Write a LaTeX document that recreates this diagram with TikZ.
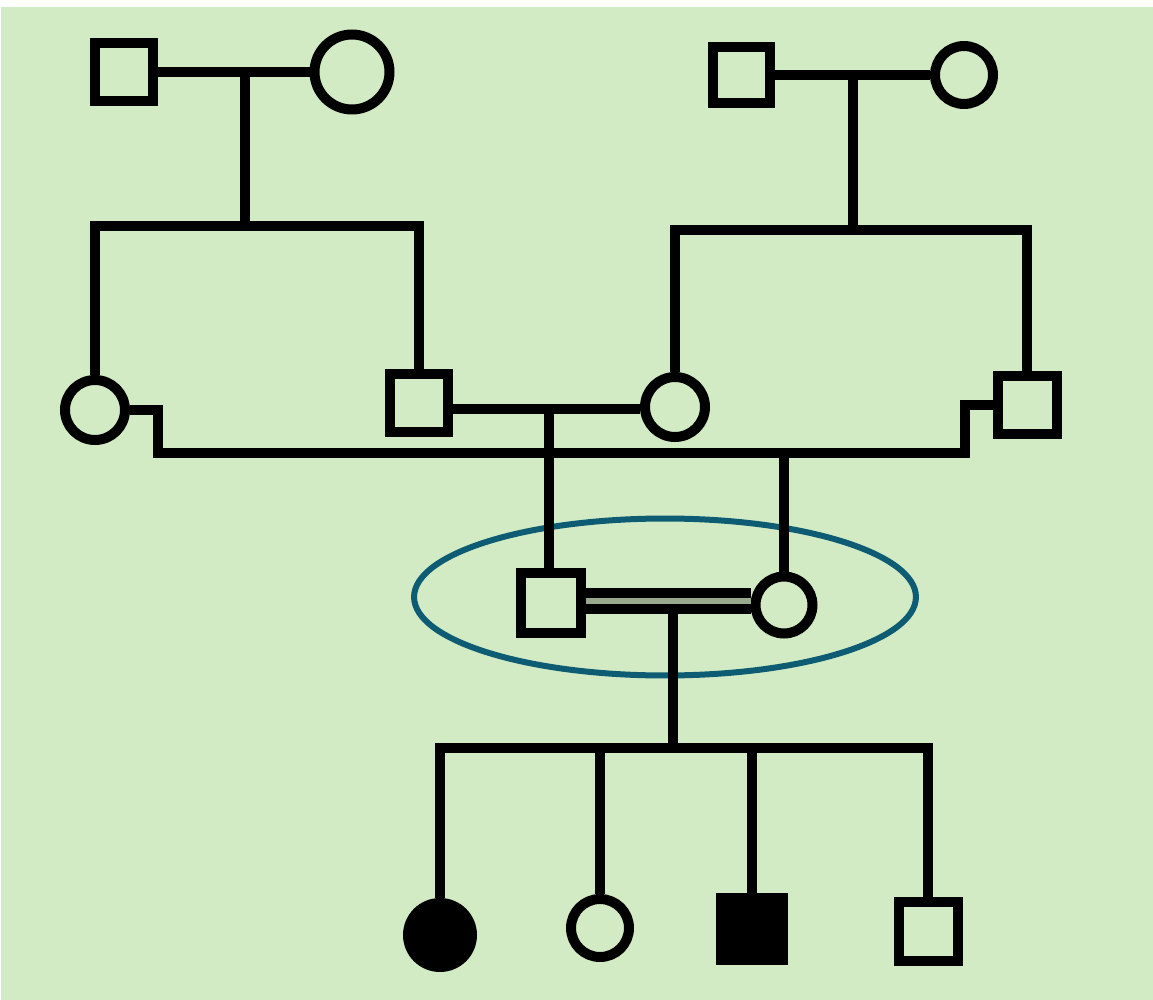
\documentclass[tikz,border=0pt]{standalone}
\usetikzlibrary{calc}
\definecolor{paleleaf}{RGB}{211,235,196}
\definecolor{ringblue}{RGB}{14,92,116}

\begin{document}
\begin{tikzpicture}[
  x=0.02cm,
  y=-0.02cm,
  line width=0.2cm,
  line join=miter,
  person/.style={draw, line width=0.2cm, inner sep=0pt, minimum size=1.18cm},
  male/.style={person, rectangle},
  female/.style={person, circle},
  affected/.style={fill=black},
  kinline/.style={line width=0.2cm, double=black!28!paleleaf, double distance=0.12cm},
  ring/.style={draw=ringblue, line width=0.12cm},
]
  \fill[white] (0,0) rectangle (1153,1000);
  \fill[paleleaf] (1,7) rectangle (1153,1000);

  % consanguineous couple marked
  \draw[ring] (665,597) ellipse [x radius=5.02cm, y radius=1.57cm];

  % generation I
  \node[male, minimum size=1.16cm] (ga) at (124,72) {};
  \node[female, minimum size=1.5cm] (gb) at (352,72) {};
  \node[male, minimum size=1.14cm] (gc) at (741,75) {};
  \node[female, minimum size=1.16cm] (gd) at (964,75) {};

  % generation II
  \node[female, minimum size=1.2cm] (pa) at (95,410) {};
  \node[male, minimum size=1.16cm] (pb) at (419,403) {};
  \node[female, minimum size=1.2cm] (pc) at (675,407) {};
  \node[male] (pd) at (1027,405) {};

  % generation III
  \node[male, minimum size=1.2cm] (gm) at (551,603) {};
  \node[female, minimum size=1.14cm] (gf) at (784,605) {};

  % generation IV
  \node[female, affected, minimum size=1.28cm] (ca) at (440,935) {};
  \node[female, minimum size=1.16cm] (cb) at (600,928) {};
  \node[male, affected, minimum size=1.24cm] (cc) at (752,929) {};
  \node[male] (cd) at (928,931) {};

  % left family
  \coordinate (ua) at (245,72);
  \coordinate (sa) at (245,226);
  \draw (ga) -- (gb);
  \draw (ua) -- (sa);
  \draw (pa.north) |- (sa) -| (pb.north);

  % right family
  \coordinate (ub) at (853,75);
  \coordinate (sb) at (853,230);
  \draw (gc) -- (gd);
  \draw (ub) -- (sb);
  \draw (pc.north) |- (sb) -| (pd.north);

  % marriages in generation II
  \coordinate (mb) at (549,409);
  \draw (pb.east |- mb) -- (pc.west |- mb);
  \draw (mb) -- (mb |- gm.north);
  \coordinate (ka) at (158,453);
  \coordinate (kb) at (965,453);
  \coordinate (md) at (784,453);
  \draw (pa.east) -| (ka) -- (kb) |- (pd.west);
  \draw (md) -- (gf.north);

  % cousin marriage and children
  \coordinate (kc) at (673,601);
  \coordinate (kd) at (673,748);
  \draw (kc) -- (kd);
  \draw[kinline] (gm.east |- kc) -- (gf.west |- kc);
  \draw (ca.north) -- (ca.north |- kd) -- (cd.north |- kd) -- (cd.north);
  \draw (cb.north) -- (cb.north |- kd);
  \draw (cc.north) -- (cc.north |- kd);
\end{tikzpicture}
\end{document}
